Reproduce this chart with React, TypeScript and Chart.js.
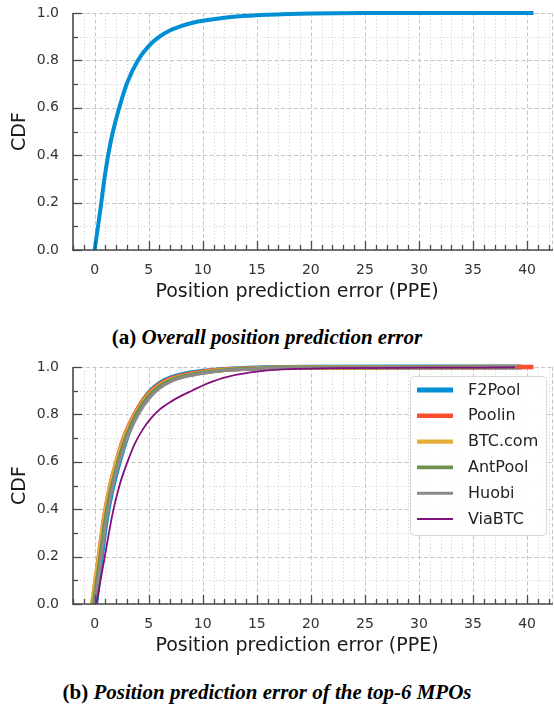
import React, { useEffect, useRef } from "react";
import { Chart, registerables } from "chart.js";

Chart.register(...registerables);

// ---------- axes / labels ----------
const X_TICKS = [0, 5, 10, 15, 20, 25, 30, 35, 40];
const Y_TICKS = [0, 0.2, 0.4, 0.6, 0.8, 1.0];
const X_MIN = -2;
const X_MAX = 42.4;
const X_MINOR_STEP = 1;
const Y_MINOR_STEP = 0.1;
const X_TITLE = "Position prediction error (PPE)";
const Y_TITLE = "CDF";

// ---------- (a) overall ----------
const OVERALL_PPE = [0, 0.5, 1, 1.5, 2, 2.5, 3, 4, 5, 6, 7, 8, 9, 10, 12, 14, 16, 18, 20, 25, 30, 40.6];
const OVERALL_CDF = [0, 0.16, 0.33, 0.46, 0.555, 0.635, 0.705, 0.8, 0.86, 0.9, 0.927, 0.945, 0.958, 0.967, 0.98, 0.988, 0.993, 0.996, 0.998, 1, 1, 1];

// ---------- (b) top-6 MPOs ----------
const MPO_NAMES = ["F2Pool", "Poolin", "BTC.com", "AntPool", "Huobi", "ViaBTC"];

const F2POOL_PPE = [0.1, 0.6, 1.1, 1.6, 2.1, 2.6, 3.1, 4, 5, 6, 7, 8, 10, 12, 15, 20, 30, 39.5];
const F2POOL_CDF = [0, 0.19, 0.36, 0.48, 0.57, 0.65, 0.72, 0.82, 0.89, 0.93, 0.953, 0.967, 0.982, 0.99, 0.996, 0.999, 1, 1];

const POOLIN_PPE = [-0.2, 0.4, 0.9, 1.4, 1.9, 2.4, 2.9, 4, 5, 6, 7, 8, 10, 12, 15, 20, 30, 40.6];
const POOLIN_CDF = [0, 0.2, 0.37, 0.49, 0.58, 0.66, 0.725, 0.825, 0.888, 0.927, 0.95, 0.963, 0.98, 0.989, 0.995, 0.998, 0.999, 1];

const BTCCOM_PPE = [-0.25, 0.4, 0.9, 1.4, 1.9, 2.4, 2.9, 4, 5, 6, 7, 8, 10, 12, 15, 20, 30, 39];
const BTCCOM_CDF = [0, 0.2, 0.37, 0.49, 0.58, 0.655, 0.72, 0.82, 0.882, 0.921, 0.946, 0.96, 0.978, 0.988, 0.994, 0.998, 0.999, 1];

const ANTPOOL_PPE = [-0.1, 0.5, 1, 1.5, 2, 2.5, 3, 4, 5, 6, 7, 8, 10, 12, 15, 20, 30, 39];
const ANTPOOL_CDF = [0, 0.19, 0.36, 0.48, 0.57, 0.65, 0.715, 0.812, 0.877, 0.918, 0.943, 0.958, 0.976, 0.987, 0.994, 0.998, 0.999, 1];

const HUOBI_PPE = [0, 0.6, 1.1, 1.6, 2.1, 2.6, 3.1, 4.1, 5.1, 6, 7, 8, 10, 12, 15, 20, 30, 39];
const HUOBI_CDF = [0, 0.19, 0.36, 0.48, 0.57, 0.645, 0.71, 0.805, 0.87, 0.91, 0.937, 0.954, 0.973, 0.985, 0.993, 0.997, 0.999, 1];

const VIABTC_PPE = [0.15, 0.9, 1.7, 2.3, 2.8, 3.7, 4.5, 5.25, 6, 7.1, 8, 9, 10, 11, 12, 14.4, 17.4, 22, 30, 38.9];
const VIABTC_CDF = [0, 0.19, 0.39, 0.5, 0.57, 0.675, 0.74, 0.785, 0.82, 0.855, 0.878, 0.9, 0.922, 0.94, 0.955, 0.977, 0.99, 0.995, 0.997, 0.998];

const MPO_PPE = [F2POOL_PPE, POOLIN_PPE, BTCCOM_PPE, ANTPOOL_PPE, HUOBI_PPE, VIABTC_PPE];
const MPO_CDF = [F2POOL_CDF, POOLIN_CDF, BTCCOM_CDF, ANTPOOL_CDF, HUOBI_CDF, VIABTC_CDF];

// ---------- styles ----------
const COLORS = ["#008fd5", "#fc4f30", "#e5ae38", "#6d904f", "#8b8b8b", "#810f7c"];
const WIDTHS = [5, 4.6, 4.2, 3.8, 3, 1.8];
const TICK_FONT = "DejaVu Sans";
const CANVAS_W = 554;
const CANVAS_H = 310;
const PLOT_TOP = 13;
const PLOT_BOTTOM = 250;

const toPoints = (xs: number[], ys: number[]) => xs.map((x, i) => ({ x, y: ys[i] }));

const mplPlugin = {
  id: "mplAxes",
  beforeDatasetsDraw(chart: any) {
    const { ctx, chartArea: ca, scales } = chart;
    const xs = scales.x;
    const ys = scales.y;
    ctx.save();
    const line = (x1: number, y1: number, x2: number, y2: number) => {
      ctx.beginPath();
      ctx.moveTo(x1, y1);
      ctx.lineTo(x2, y2);
      ctx.stroke();
    };
    const nx = Math.floor((xs.max - Math.ceil(xs.min)) / X_MINOR_STEP);
    for (let i = 0; i <= nx; i++) {
      const v = Math.ceil(xs.min) + i * X_MINOR_STEP;
      const px = Math.round(xs.getPixelForValue(v)) + 0.5;
      const major = X_TICKS.includes(v);
      ctx.setLineDash(major ? [4, 2.5] : [1.2, 2.2]);
      ctx.strokeStyle = major ? "#c6c6c6" : "#d2d2d2";
      ctx.lineWidth = 1;
      line(px, ca.top, px, ca.bottom);
    }
    const ny = Math.round((ys.max - ys.min) / Y_MINOR_STEP);
    for (let i = 0; i <= ny; i++) {
      const v = ys.min + i * Y_MINOR_STEP;
      const py = Math.round(ys.getPixelForValue(v)) + 0.5;
      const major = i % 2 === 0;
      ctx.setLineDash(major ? [4, 2.5] : [1.2, 2.2]);
      ctx.strokeStyle = major ? "#c6c6c6" : "#d2d2d2";
      ctx.lineWidth = 1;
      line(ca.left, py, ca.right, py);
    }
    ctx.setLineDash([4, 2.5]);
    ctx.strokeStyle = "#c6c6c6";
    line(ca.right - 0.5, ca.top, ca.right - 0.5, ca.bottom);
    ctx.restore();
  },
  afterDatasetsDraw(chart: any, _args: any, opts: any) {
    const { ctx, chartArea: ca, scales } = chart;
    const xs = scales.x;
    const ys = scales.y;
    ctx.save();
    ctx.setLineDash([]);
    const line = (x1: number, y1: number, x2: number, y2: number) => {
      ctx.beginPath();
      ctx.moveTo(x1, y1);
      ctx.lineTo(x2, y2);
      ctx.stroke();
    };
    ctx.strokeStyle = "#4a4a4a";
    ctx.lineWidth = 1.3;
    const nx = Math.floor((xs.max - Math.ceil(xs.min)) / X_MINOR_STEP);
    for (let i = 0; i <= nx; i++) {
      const v = Math.ceil(xs.min) + i * X_MINOR_STEP;
      const px = Math.round(xs.getPixelForValue(v)) + 0.5;
      const len = X_TICKS.includes(v) ? 9 : 5;
      line(px, ca.bottom, px, ca.bottom - len);
    }
    const ny = Math.round((ys.max - ys.min) / Y_MINOR_STEP);
    for (let i = 0; i <= ny; i++) {
      const v = ys.min + i * Y_MINOR_STEP;
      const py = Math.round(ys.getPixelForValue(v)) + 0.5;
      const len = i % 2 === 0 ? 9 : 5;
      line(ca.left, py, ca.left + len, py);
    }
    ctx.lineWidth = 1.6;
    line(ca.left, ca.top, ca.left, ca.bottom + 0.8);
    line(ca.left - 0.8, ca.bottom, ca.right, ca.bottom);

    if (opts && opts.legend) {
      const dss = chart.data.datasets;
      const boxW = 136;
      const rowH = 25.8;
      const boxRight = ca.right - 7;
      const boxTop = ca.top + 9;
      const boxH = 14 + rowH * (dss.length - 1) + 16;
      const boxLeft = boxRight - boxW;
      ctx.beginPath();
      ctx.roundRect(boxLeft + 0.5, boxTop + 0.5, boxW, boxH, 4);
      ctx.fillStyle = "rgba(255,255,255,0.92)";
      ctx.fill();
      ctx.strokeStyle = "#d8d8d8";
      ctx.lineWidth = 1;
      ctx.stroke();
      ctx.font = `16px "${TICK_FONT}"`;
      ctx.textBaseline = "middle";
      ctx.textAlign = "left";
      dss.forEach((ds: any, i: number) => {
        const cy = boxTop + 14 + i * rowH;
        ctx.strokeStyle = ds.borderColor;
        ctx.lineWidth = ds.borderWidth;
        ctx.lineCap = "butt";
        line(boxLeft + 7, cy, boxLeft + 43, cy);
        ctx.fillStyle = "#222";
        ctx.fillText(ds.label, boxLeft + 58, cy + 0.5);
      });
    }

    ctx.font = `19px "${TICK_FONT}"`;
    ctx.fillStyle = "#1a1a1a";
    ctx.textAlign = "center";
    ctx.textBaseline = "middle";
    ctx.fillText(X_TITLE, (ca.left + ca.right) / 2 - 16, ca.bottom + 42);
    ctx.restore();
  },
};

function CdfPanel({ datasets, legend, top }: { datasets: any[]; legend: boolean; top: number }) {
  const ref = useRef<HTMLCanvasElement>(null);
  useEffect(() => {
    const chart = new Chart(ref.current as HTMLCanvasElement, {
      type: "line",
      data: { datasets },
      options: {
        animation: false,
        responsive: false,
        layout: { padding: { left: 0, right: 1, top: PLOT_TOP, bottom: 0 } },
        plugins: {
          legend: { display: false },
          tooltip: { enabled: false },
          mplAxes: { legend },
        } as any,
        elements: { point: { radius: 0 } },
        scales: {
          x: {
            type: "linear",
            min: X_MIN,
            max: X_MAX,
            afterBuildTicks: (s: any) => {
              s.ticks = X_TICKS.map((v) => ({ value: v }));
            },
            afterFit: (s: any) => {
              s.height = CANVAS_H - PLOT_BOTTOM;
              s.paddingLeft = 0;
              s.paddingRight = 0;
              s.paddingTop = 0;
              s.paddingBottom = 0;
            },
            grid: { display: false, drawTicks: false },
            border: { display: false },
            ticks: {
              font: { family: TICK_FONT, size: 14 },
              color: "#333",
              padding: 12,
              maxRotation: 0,
              autoSkip: false,
            },
          },
          y: {
            type: "linear",
            min: 0,
            max: 1,
            afterBuildTicks: (s: any) => {
              s.ticks = Y_TICKS.map((v) => ({ value: v }));
            },
            afterFit: (s: any) => {
              s.width = 73;
              s.paddingTop = 0;
              s.paddingBottom = 0;
              s.paddingLeft = 0;
              s.paddingRight = 0;
            },
            grid: { display: false, drawTicks: false },
            border: { display: false },
            ticks: {
              font: { family: TICK_FONT, size: 14 },
              color: "#333",
              padding: 14,
              callback: (v: any) => Number(v).toFixed(1),
            },
            title: {
              display: true,
              text: Y_TITLE,
              font: { family: TICK_FONT, size: 19 },
              color: "#1a1a1a",
              padding: { top: 9, bottom: 0 },
            },
          },
        },
      },
      plugins: [mplPlugin],
    });
    return () => chart.destroy();
  }, []);
  return (
    <canvas
      ref={ref}
      width={CANVAS_W}
      height={CANVAS_H}
      style={{ position: "absolute", left: 0, top, width: CANVAS_W, height: CANVAS_H }}
    />
  );
}

const captionStyle: React.CSSProperties = {
  position: "absolute",
  left: 0,
  width: 534,
  textAlign: "center",
  fontFamily: '"Liberation Serif", "DejaVu Serif", serif',
  fontWeight: "bold",
  fontSize: 21,
  lineHeight: "24px",
  color: "#000",
  whiteSpace: "nowrap",
};

export default function App() {
  const overall = [
    {
      label: "Overall",
      data: toPoints(OVERALL_PPE, OVERALL_CDF),
      borderColor: COLORS[0],
      borderWidth: 4,
      pointRadius: 0,
      fill: false,
      cubicInterpolationMode: "monotone",
      clip: false,
    },
  ];
  const mpos = MPO_NAMES.map((name, i) => ({
    label: name,
    data: toPoints(MPO_PPE[i], MPO_CDF[i]),
    borderColor: COLORS[i],
    borderWidth: WIDTHS[i],
    pointRadius: 0,
    fill: false,
    cubicInterpolationMode: "monotone",
    clip: false,
    order: MPO_NAMES.length - i,
  }));
  return (
    <div style={{ position: "absolute", left: 0, top: 0, width: 554, height: 707, background: "#fff" }}>
      <CdfPanel datasets={overall} legend={false} top={0} />
      <div style={{ ...captionStyle, top: 325 }}>
        (a) <i>Overall position prediction error</i>
      </div>
      <CdfPanel datasets={mpos} legend={true} top={354} />
      <div style={{ ...captionStyle, top: 680 }}>
        (b) <i>Position prediction error of the top-6 MPOs</i>
      </div>
    </div>
  );
}
